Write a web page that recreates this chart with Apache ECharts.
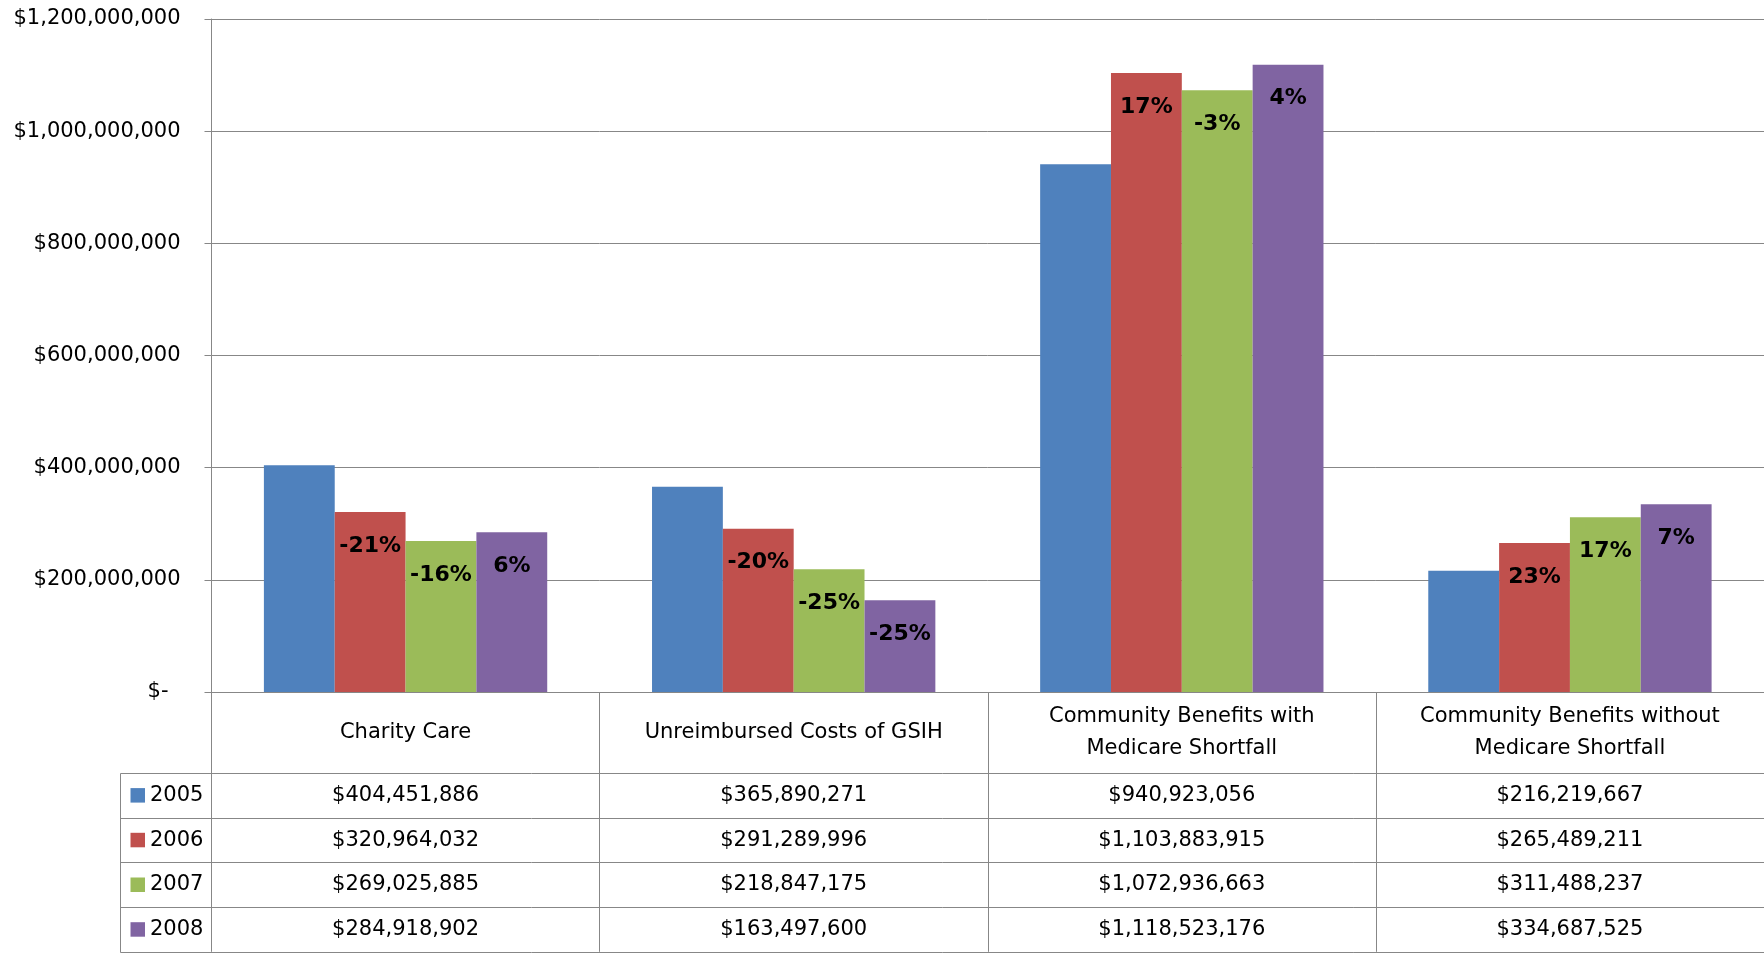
<!DOCTYPE html>
<html>
<head>
<meta charset="utf-8">
<script src="https://cdn.jsdelivr.net/npm/echarts@6/dist/echarts.min.js"></script>
<style>
html,body{margin:0;padding:0;background:#fff;}
#c{width:1764px;height:956px;}
</style>
</head>
<body>
<div id="c"></div>
<script>
// ---- data ----
var categories = ['Charity Care', 'Unreimbursed Costs of GSIH', 'Community Benefits with\nMedicare Shortfall', 'Community Benefits without\nMedicare Shortfall'];
var years = ['2005', '2006', '2007', '2008'];
var v2005 = [404451886, 365890271, 940923056, 216219667];
var v2006 = [320964032, 291289996, 1103883915, 265489211];
var v2007 = [269025885, 218847175, 1072936663, 311488237];
var v2008 = [284918902, 163497600, 1118523176, 334687525];
var pct2005 = ['', '', '', ''];
var pct2006 = ['-21%', '-20%', '17%', '23%'];
var pct2007 = ['-16%', '-25%', '-3%', '17%'];
var pct2008 = ['6%', '-25%', '4%', '7%'];
var yMin = 0, yMax = 1200000000, yInterval = 200000000;

// ---- layout / style ----
var FONT = 'DejaVu Sans';
var FS = 21;
var colors = ['#4F81BD', '#C0504D', '#9BBB59', '#8064A2'];
var lineColor = '#878787';
var gridLeft = 211.5, gridWidth = 1557, gridTop = 19, gridBottomY = 692, W = 1764, H = 956;
var headerH = 81, rowH = 44.7;
var tableLeft = 120.5;

var values = [v2005, v2006, v2007, v2008];
var pcts = [pct2005, pct2006, pct2007, pct2008];

function money(n) { return '$' + n.toLocaleString('en-US'); }

var chart = echarts.init(document.getElementById('c'), null, {renderer: 'canvas'});

var xAxes = [{
  type: 'category', data: categories, gridIndex: 0, position: 'bottom',
  axisLine: {show: true, lineStyle: {color: lineColor, width: 1}},
  axisTick: {show: true, interval: 0, length: headerH + rowH * 4, lineStyle: {color: lineColor, width: 1}},
  axisLabel: {interval: 0, margin: headerH / 2, verticalAlign: 'middle', lineHeight: 32.5,
    fontSize: FS, fontFamily: FONT, color: '#000'},
  splitLine: {show: false}
}];
values.forEach(function (arr, k) {
  xAxes.push({
    type: 'category', data: categories, gridIndex: 0, position: 'bottom', offset: 0,
    axisLine: {show: false}, axisTick: {show: false}, splitLine: {show: false},
    axisLabel: {interval: 0, margin: headerH + rowH * k + rowH / 2, verticalAlign: 'middle',
      fontSize: FS, fontFamily: FONT, color: '#000',
      formatter: function (v, i) { return money(arr[i]); }}
  });
});

var series = years.map(function (y, k) {
  return {
    name: y, type: 'bar', xAxisIndex: 0, yAxisIndex: 0,
    data: values[k],
    barGap: '0%', barCategoryGap: '27%',
    itemStyle: {color: colors[k]},
    label: {show: k > 0, position: 'insideTop', distance: 23,
      fontFamily: FONT, fontWeight: 'bold', fontSize: 22, color: '#000',
      formatter: function (p) { return pcts[k][p.dataIndex]; }},
    emphasis: {disabled: true}
  };
});

// table horizontal lines & left border
var graphics = [];
for (var r = 0; r <= 4; r++) {
  var yy = Math.round(gridBottomY + headerH + rowH * r) + 0.5;
  graphics.push({type: 'line', silent: true, shape: {x1: tableLeft, y1: yy, x2: W, y2: yy},
    style: {stroke: lineColor, lineWidth: 1}});
}
graphics.push({type: 'line', silent: true,
  shape: {x1: tableLeft, y1: Math.round(gridBottomY + headerH) + 0.5, x2: tableLeft, y2: Math.round(gridBottomY + headerH + rowH * 4) + 0.5},
  style: {stroke: lineColor, lineWidth: 1}});

chart.setOption({
  animation: false,
  backgroundColor: '#fff',
  textStyle: {fontFamily: FONT},
  grid: {left: gridLeft, top: gridTop, width: gridWidth, height: gridBottomY - gridTop, containLabel: false},
  legend: {
    orient: 'vertical', left: 130.5, top: gridBottomY + headerH + rowH / 2 - 10.5, padding: 0,
    itemWidth: 14.5, itemHeight: 14.5, itemGap: rowH - 21, icon: 'rect',
    data: years,
    textStyle: {fontFamily: FONT, fontSize: FS, lineHeight: 21, color: '#000'},
    selectedMode: false
  },
  xAxis: xAxes,
  yAxis: {
    type: 'value', min: yMin, max: yMax, interval: yInterval,
    axisLine: {show: true, lineStyle: {color: lineColor, width: 1}},
    axisTick: {show: true, length: 7, lineStyle: {color: lineColor}},
    splitLine: {show: true, lineStyle: {color: lineColor, width: 1}},
    axisLabel: {margin: 31, fontSize: FS, fontFamily: FONT, color: '#000',
      formatter: function (v) { return v === 0 ? '{z|$-}' : money(v); },
      rich: {z: {fontSize: FS, fontFamily: FONT, color: '#000', padding: [0, 12, 0, 0]}}}
  },
  series: series,
  graphic: graphics
});
</script>
</body>
</html>
